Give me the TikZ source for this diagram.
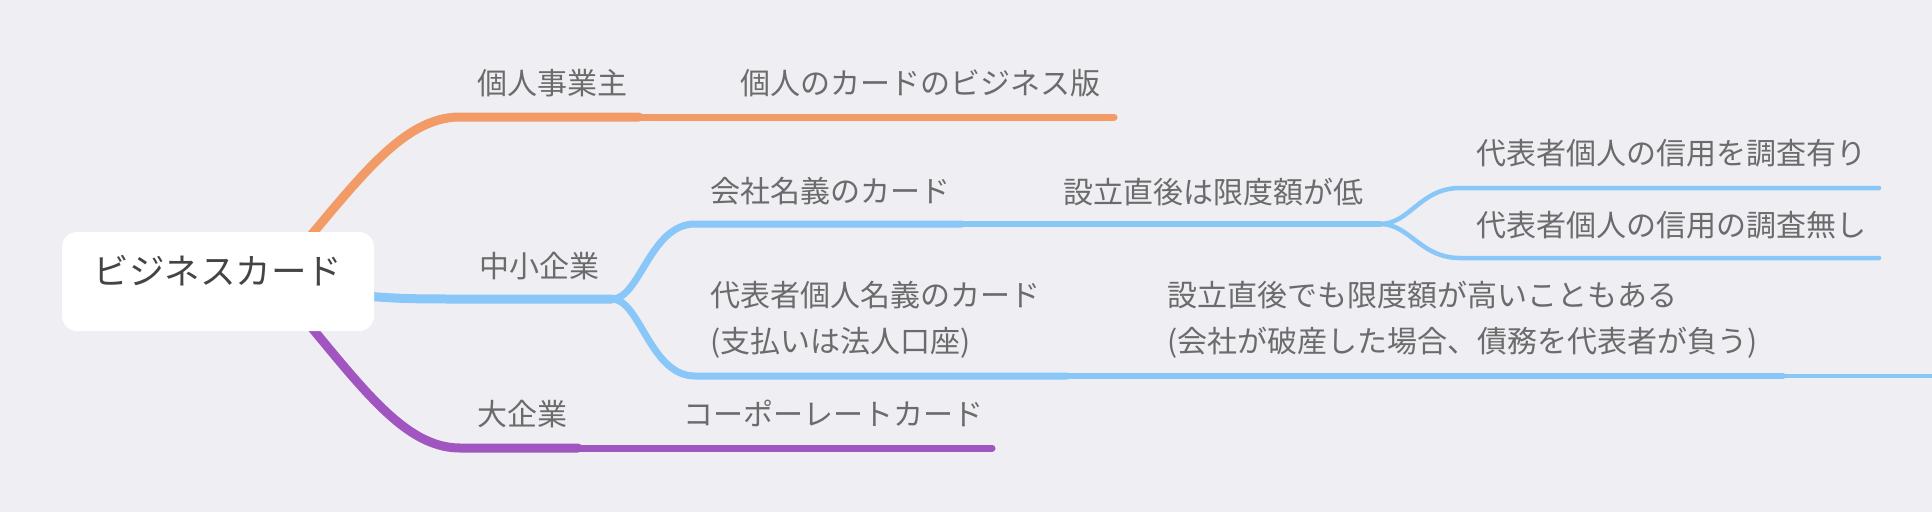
\documentclass[tikz,border=0pt]{standalone}
\usepackage{fontspec}
\setmainfont{Noto Sans CJK JP}
\definecolor{bgcol}{HTML}{EEEEF3}
\definecolor{orangebr}{HTML}{F29B67}
\definecolor{bluebr}{HTML}{8AC7F9}
\definecolor{purplebr}{HTML}{A155C0}
\definecolor{labelgray}{HTML}{6B6B6B}
\definecolor{rootgray}{HTML}{444444}
\tikzset{
  topic/.style={anchor=west, inner sep=0pt, text=labelgray,
    font=\fontsize{30}{46}\selectfont, align=left},
  rootbox/.style={fill=white, rounded corners=15pt, minimum width=312pt,
    minimum height=99pt, inner sep=0pt, text=rootgray,
    font=\fontsize{35.5}{42}\selectfont, text height=26pt, text depth=20pt},
  lvlone/.style={line width=9pt, line cap=round},
  lvltwo/.style={line width=7pt, line cap=round},
  lvlthree/.style={line width=6pt, line cap=round},
  lvlfour/.style={line width=4.5pt, line cap=round},
}
\begin{document}
\begin{tikzpicture}[x=1pt,y=-1pt]
    \fill[bgcol] (0,0) rectangle (1932,512);
    \useasboundingbox (0,0) rectangle (1932,512);
    % underline ends
    \coordinate (ko-in) at (280,272);
    \coordinate (ko-a) at (460,117);
    \coordinate (ko-b) at (639,117);
    \coordinate (kob-b) at (1114,117);
    \coordinate (chu-in) at (300,288);
    \coordinate (chu-a) at (460,299);
    \coordinate (chu-b) at (612,299);
    \coordinate (kai-a) at (695,224);
    \coordinate (kai-b) at (962,224);
    \coordinate (hik-b) at (1380,224);
    \coordinate (ari-a) at (1460,188);
    \coordinate (ari-b) at (1879,188);
    \coordinate (nas-a) at (1460,258);
    \coordinate (nas-b) at (1879,258);
    \coordinate (dai-a) at (695,376);
    \coordinate (dai-b) at (1067,376);
    \coordinate (tak-b) at (1783,376);
    \coordinate (edge) at (1932,376);
    \coordinate (ki-in) at (280,290);
    \coordinate (ki-a) at (460,448);
    \coordinate (ki-b) at (578,448);
    \coordinate (cor-b) at (992,448);
    % branches
    \draw[lvlone, orangebr] (ko-in) .. controls (355,185) and (400,117) .. (ko-a) -- (ko-b);
    \draw[lvltwo, orangebr] (ko-b) -- (kob-b);
    \draw[lvlone, bluebr] (chu-in) .. controls (380,299) and (400,299) .. (chu-a) -- (chu-b);
    \draw[lvltwo, bluebr] (chu-b) .. controls (640,299) and (650,224) .. (kai-a) -- (kai-b);
    \draw[lvlthree, bluebr] (kai-b) -- (hik-b);
    \draw[lvlfour, bluebr] (hik-b) .. controls (1410,224) and (1420,188) .. (ari-a) -- (ari-b);
    \draw[lvlfour, bluebr] (hik-b) .. controls (1410,224) and (1420,258) .. (nas-a) -- (nas-b);
    \draw[lvltwo, bluebr] (chu-b) .. controls (640,299) and (650,376) .. (dai-a) -- (dai-b);
    \draw[lvlthree, bluebr] (dai-b) -- (tak-b);
    \draw[lvlfour, bluebr, line cap=butt] (tak-b) -- (edge);
    \draw[lvlone, purplebr] (ki-in) .. controls (355,377) and (400,448) .. (ki-a) -- (ki-b);
    \draw[lvltwo, purplebr] (ki-b) -- (cor-b);
    % topics
    \node[rootbox] (root) at (218,281.5) {ビジネスカード};
    \node[topic] (kojin) at (477,83) {個人事業主};
    \node[topic] (kojinban) at (740,83) {個人のカードのビジネス版};
    \node[topic] (chusho) at (479,266) {中小企業};
    \node[topic] (kaisha) at (710,191) {会社名義のカード};
    \node[topic] (hikui) at (1063,192) {設立直後は限度額が低};
    \node[topic] (ari) at (1476,153) {代表者個人の信用を調査有り};
    \node[topic] (nashi) at (1476,225) {代表者個人の信用の調査無し};
    \node[topic] (daihyo) at (710,320) {代表者個人名義のカード\\(支払いは法人口座)};
    \node[topic] (takai) at (1167,320) {設立直後でも限度額が高いこともある\\(会社が破産した場合、債務を代表者が負う)};
    \node[topic] (daikigyo) at (477,414) {大企業};
    \node[topic] (corp) at (683,413) {コーポーレートカード};
\end{tikzpicture}
\end{document}
